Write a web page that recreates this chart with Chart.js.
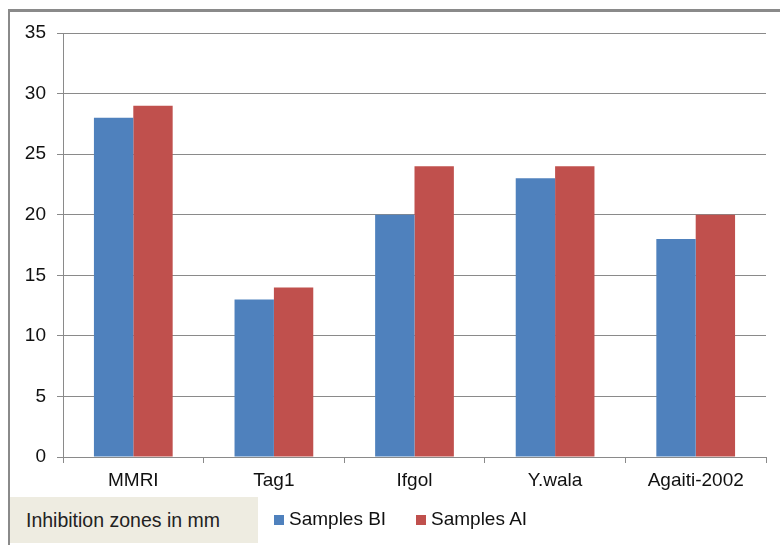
<!DOCTYPE html>
<html lang="en">
<head>
  <meta charset="UTF-8">
  <title>Inhibition zones</title>
  <script src="https://cdn.jsdelivr.net/npm/chart.js"></script>
  <style>
    body {
      margin: 0;
      background: #fff;
      font-family: "Liberation Sans", Arial, sans-serif;
    }
    .wrap {
      position: relative;
      width: 780px;
      height: 545px;
      overflow: hidden;
    }
    .frame {
      position: absolute;
      left: 8px;
      top: 9px;
      width: 900px;
      height: 700px;
      border-top: 3px solid #8a8a8a;
      border-left: 2px solid #8a8a8a;
    }
    canvas {
      position: absolute;
      left: 0;
      top: 0;
    }
    .note {
      position: absolute;
      left: 10px;
      top: 497px;
      width: 248px;
      height: 46px;
      background: #eeece1;
      font-size: 19.5px;
      line-height: 46px;
      padding-left: 16px;
      box-sizing: border-box;
      color: #222;
      white-space: nowrap;
    }
    .legend-item {
      position: absolute;
      top: 508px;
      font-size: 19px;
      color: #111;
      white-space: nowrap;
    }
    .legend-item span.sw {
      display: inline-block;
      width: 10px;
      height: 10px;
      margin-right: 5px;
    }
  </style>
</head>
<body>
  <div class="wrap" id="wrap">
    <div class="frame"></div>
    <canvas id="chart" width="780" height="545"></canvas>
    <div class="note">Inhibition zones in mm</div>
  </div>

  <script>
    // data
    const categories = ['MMRI', 'Tag1', 'Ifgol', 'Y.wala', 'Agaiti-2002'];
    const samplesBI = [28, 13, 20, 23, 18];
    const samplesAI = [29, 14, 24, 24, 20];
    const seriesNames = ['Samples BI', 'Samples AI'];
    const colors = ['#4f81bd', '#c0504d'];

    const tickFont = { family: '"Liberation Sans", Arial', size: 19 };

    const ctx = document.getElementById('chart').getContext('2d');
    const chart = new Chart(ctx, {
      type: 'bar',
      data: {
        labels: categories,
        datasets: [
          { label: seriesNames[0], data: samplesBI, backgroundColor: colors[0] },
          { label: seriesNames[1], data: samplesAI, backgroundColor: colors[1] }
        ]
      },
      options: {
        responsive: false,
        animation: false,
        layout: { padding: { left: 0, top: 33, right: 14, bottom: 0 } },
        datasets: {
          bar: { categoryPercentage: 0.56, barPercentage: 1.0 }
        },
        plugins: {
          legend: { display: false },
          tooltip: { enabled: false }
        },
        scales: {
          x: {
            afterFit: s => { s.height = 88; },
            grid: {
              offset: true,
              drawOnChartArea: false,
              drawTicks: true,
              tickLength: 6,
              color: '#8a8a8a'
            },
            border: { color: '#8a8a8a' },
            ticks: {
              color: '#111',
              padding: 6,
              font: tickFont
            }
          },
          y: {
            min: 0,
            max: 35,
            afterFit: s => { s.width = 63; },
            ticks: {
              stepSize: 5,
              color: '#111',
              padding: 11,
              font: tickFont
            },
            grid: {
              color: '#8a8a8a',
              tickLength: 6
            },
            border: { color: '#8a8a8a' }
          }
        }
      }
    });

    // html legend, one item per series
    const legendLeft = [274, 416];
    const wrap = document.getElementById('wrap');
    seriesNames.forEach((name, i) => {
      const item = document.createElement('div');
      item.className = 'legend-item';
      item.style.left = legendLeft[i] + 'px';
      item.innerHTML = '<span class="sw" style="background:' + colors[i] + '"></span>' + name;
      wrap.appendChild(item);
    });
  </script>
</body>
</html>
